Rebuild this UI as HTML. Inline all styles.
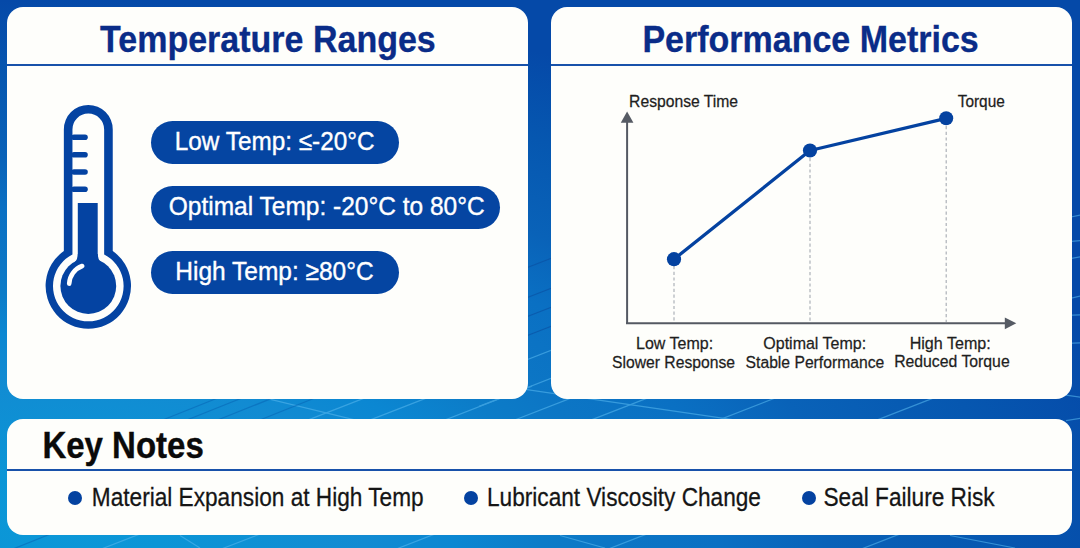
<!DOCTYPE html>
<html><head><meta charset="utf-8">
<style>
*{margin:0;padding:0;box-sizing:border-box}
html,body{width:1080px;height:548px;overflow:hidden}
body{position:relative;font-family:"Liberation Sans",Arial,sans-serif;
background:radial-gradient(1100px 520px at 60px 520px, #0c98d8 0%, #0b95d6 10%, #128bd2 28%, #0b87d2 36%, #0c7cc8 44%, #0c76c5 50%, #0a70c3 60%, #0962b8 70%, #0657b0 85%, #0549a8 100%);}
#bg{position:absolute;left:0;top:0;width:1080px;height:548px}
.card{position:absolute;background:#fefefb;border-radius:16px}
.hd{position:absolute;left:0;right:0;text-align:center;font-weight:bold;color:#0a2c88;font-size:34px;line-height:1}
.sy{display:inline-block;transform:scaleY(1.1);transform-origin:50% 29px;-webkit-text-stroke:0.3px #0a2c88}
.sp{display:inline-block;transform:scaleY(1.08);transform-origin:50% 29px;line-height:40px;-webkit-text-stroke:0.35px #fff}
.sb{display:inline-block;transform:scaleY(1.11);transform-origin:50% 19px;-webkit-text-stroke:0.25px #151515}
.sk{display:inline-block;transform:scaleY(1.1);transform-origin:50% 28px;-webkit-text-stroke:0.35px #0a0a0a}
.hl{position:absolute;left:0;right:0;height:2px;background:#1852aa}
.pill{position:absolute;left:151px;height:43px;border-radius:22px;background:#0545a2;color:#fff;font-size:24.5px;line-height:41.8px;text-align:center;white-space:nowrap}
.bul{position:absolute;top:487px;font-size:22.65px;color:#151515;white-space:nowrap;line-height:1}
.dot{position:absolute;width:14px;height:14px;border-radius:50%;background:#0442a0}
</style></head><body>
<svg id="bg" viewBox="0 0 1080 548">
 <g stroke="#55b6ee" stroke-width="1.2" fill="none" opacity="0.6">
  <line x1="275.0" y1="432.9" x2="395.0" y2="386.1"/>
  <line x1="337.0" y1="432.9" x2="457.0" y2="386.1"/>
  <line x1="412.0" y1="432.9" x2="532.0" y2="386.1"/>
  <line x1="492.0" y1="428.9" x2="612.0" y2="382.1"/>
  <line x1="558.0" y1="432.9" x2="678.0" y2="386.1"/>
  <line x1="687.0" y1="432.4" x2="807.0" y2="385.6"/>
  <line x1="844.0" y1="432.9" x2="964.0" y2="386.1"/>
  <line x1="60.0" y1="565.1" x2="180.0" y2="518.4"/>
  <line x1="180.0" y1="565.1" x2="300.0" y2="518.4"/>
  <line x1="355.0" y1="565.1" x2="475.0" y2="518.4"/>
  <line x1="567.0" y1="565.1" x2="687.0" y2="518.4"/>
  <line x1="820.0" y1="565.1" x2="940.0" y2="518.4"/>
  <line x1="479.0" y1="378.4" x2="599.0" y2="331.6"/>
  <line x1="479.0" y1="406.4" x2="599.0" y2="359.6"/>
  <line x1="250" y1="394.3" x2="360" y2="421.2"/>
  <line x1="480" y1="382.8" x2="760" y2="423.7"/>
  <line x1="180" y1="535.5" x2="200" y2="548"/>
  <line x1="560" y1="535.5" x2="605" y2="548"/>
  <line x1="950" y1="535.5" x2="1015" y2="548"/>
  <line x1="1066" y1="218.0" x2="1086" y2="214.0"/>
  <line x1="1066" y1="241.8" x2="1086" y2="240.2"/>
  <line x1="1066" y1="259.3" x2="1086" y2="255.7"/>
  <line x1="1066" y1="299.4" x2="1086" y2="294.6"/>
  <line x1="1066" y1="315.4" x2="1086" y2="314.6"/>
  <line x1="1066" y1="343.4" x2="1086" y2="342.6"/>
  <line x1="1066" y1="395.1" x2="1086" y2="397.9"/>
  <line x1="1066" y1="420.6" x2="1086" y2="417.4"/>
 </g>
 <g stroke="#0a4ea0" stroke-width="1.2" fill="none" opacity="0.6">
  <line stroke="#0868b8" x1="128.3" y1="433.8" x2="248.3" y2="385.8"/>
  <line stroke="#0868b8" x1="152.5" y1="433.8" x2="272.5" y2="385.8"/>
  <line stroke="#0868b8" x1="183.3" y1="433.8" x2="303.3" y2="385.8"/>
  <line stroke="#0868b8" x1="221.0" y1="435.5" x2="341.0" y2="387.5"/>
  <line stroke="#0868b8" x1="-29.0" y1="565.8" x2="91.0" y2="517.8"/>
  <line x1="519.0" y1="270.8" x2="559.0" y2="255.2"/>
  <line x1="519.0" y1="300.8" x2="559.0" y2="285.2"/>
  <line x1="519.0" y1="319.8" x2="559.0" y2="304.2"/>
  <line x1="519.0" y1="338.8" x2="559.0" y2="323.2"/>
 </g>
</svg>

<!-- Left card -->
<div class="card" style="left:7.3px;top:7.4px;width:520.7px;height:391.9px">
 <div class="hd" style="top:15.2px;left:0.5px"><span class="sy">Temperature Ranges</span></div>
 <div class="hl" style="top:57.1px"></div>
</div>
<svg style="position:absolute;left:0;top:0" width="1080" height="548" viewBox="0 0 1080 548">
 <path fill="#0443a2" fill-rule="evenodd" d="M63.85 251 V129.4 A24.45 24.45 0 0 1 112.75 129.4 V251 A42.7 42.7 0 1 1 63.85 251 Z M72.45 254.5 V129.4 A15.85 15.85 0 0 1 104.15 129.4 V254.5 A35.3 35.3 0 1 1 72.45 254.5 Z"/>
 <g stroke="#0443a2" stroke-width="5.6" stroke-linecap="round">
  <line x1="74" y1="137.3" x2="85" y2="137.3"/>
  <line x1="74" y1="154.7" x2="85" y2="154.7"/>
  <line x1="74" y1="172" x2="85" y2="172"/>
  <line x1="74" y1="189.3" x2="85" y2="189.3"/>
 </g>
 <rect x="77.8" y="203" width="19.9" height="70" fill="#0443a2"/>
 <circle cx="88.3" cy="286" r="27.9" fill="#0443a2"/>
 <path d="M74.8 262 Q77.8 259 77.8 254 L97.8 254 Q97.8 259 100.8 262 Z" fill="#0443a2"/>
 <path d="M69.2 283.6 A19.8 19.8 0 0 1 82.2 266" fill="none" stroke="#fff" stroke-width="4.6" stroke-linecap="round"/>
</svg>
<div class="pill" style="top:120.5px;width:248px"><span class="sp" style="font-size:24.33px;margin-left:-0.6px">Low Temp: ≤-20°C</span></div>
<div class="pill" style="top:185.5px;width:348.5px"><span class="sp" style="margin-left:3px">Optimal Temp: -20°C to 80°C</span></div>
<div class="pill" style="top:250.5px;width:248px"><span class="sp" style="margin-left:-1px">High Temp: ≥80°C</span></div>

<!-- Right card -->
<div class="card" style="left:550.5px;top:7.4px;width:521px;height:391.9px">
 <div class="hd" style="top:15.2px;left:-0.8px"><span class="sy">Performance Metrics</span></div>
 <div class="hl" style="top:57.1px"></div>
</div>
<svg style="position:absolute;left:0;top:0" width="1080" height="548" viewBox="0 0 1080 548" font-family="Liberation Sans, Arial, sans-serif">
 <g stroke="#a9aeb6" stroke-width="1.15" stroke-dasharray="3.2 2.5">
  <line x1="674" y1="266" x2="674" y2="322"/>
  <line x1="810" y1="158" x2="810" y2="322"/>
  <line x1="946.2" y1="126" x2="946.2" y2="322"/>
 </g>
 <g stroke="#545962" stroke-width="2" fill="none">
  <line x1="627.1" y1="120" x2="627.1" y2="323.3"/>
  <line x1="626" y1="323.3" x2="1006" y2="323.3"/>
 </g>
 <path d="M620.8 122.8 L627.1 111.4 L633.4 122.8 Z" fill="#565b64"/>
 <path d="M1004.8 317.4 L1016.3 323.3 L1004.8 329.3 Z" fill="#565b64"/>
 <polyline points="674,259.2 810,150.5 946.2,118.3" fill="none" stroke="#0442a0" stroke-width="3.3" stroke-linejoin="round"/>
 <g fill="#0442a0">
  <circle cx="674" cy="259.2" r="7.1"/>
  <circle cx="810" cy="150.5" r="7.1"/>
  <circle cx="946.2" cy="118.3" r="7"/>
 </g>
 <g fill="#1e1e1e" stroke="#1e1e1e" stroke-width="0.25">
  <text transform="translate(629.1 106.5) scale(1 1.02)" font-size="15.7" text-anchor="start">Response Time</text>
  <text transform="translate(957.7 106.7) scale(1 1.02)" font-size="15.4" text-anchor="start">Torque</text>
  <text transform="translate(674.6 348.7) scale(1 1.02)" font-size="16.0" text-anchor="middle">Low Temp:</text>
  <text transform="translate(673.5 367.8) scale(1 1.02)" font-size="15.7" text-anchor="middle">Slower Response</text>
  <text transform="translate(814.7 348.9) scale(1 1.02)" font-size="16.0" text-anchor="middle">Optimal Temp:</text>
  <text transform="translate(814.9 368.1) scale(1 1.02)" font-size="15.7" text-anchor="middle">Stable Performance</text>
  <text transform="translate(950.2 348.8) scale(1 1.02)" font-size="16.1" text-anchor="middle">High Temp:</text>
  <text transform="translate(951.9 367.4) scale(1 1.02)" font-size="15.8" text-anchor="middle">Reduced Torque</text>
 </g>
</svg>

<!-- Bottom card -->
<div class="card" style="left:7px;top:419px;width:1064.5px;height:116px">
 <div style="position:absolute;left:35.4px;top:11px;font-size:33px;font-weight:bold;color:#0a0a0a;line-height:1"><span class="sk">Key Notes</span></div>
 <div class="hl" style="top:49.5px"></div>
</div>
<div class="dot" style="left:68px;top:491px"></div>
<div class="bul" style="left:91.8px"><span class="sb">Material Expansion at High Temp</span></div>
<div class="dot" style="left:464px;top:490.5px"></div>
<div class="bul" style="left:487px"><span class="sb">Lubricant Viscosity Change</span></div>
<div class="dot" style="left:801.5px;top:490.5px"></div>
<div class="bul" style="left:823.5px"><span class="sb">Seal Failure Risk</span></div>
</body></html>
